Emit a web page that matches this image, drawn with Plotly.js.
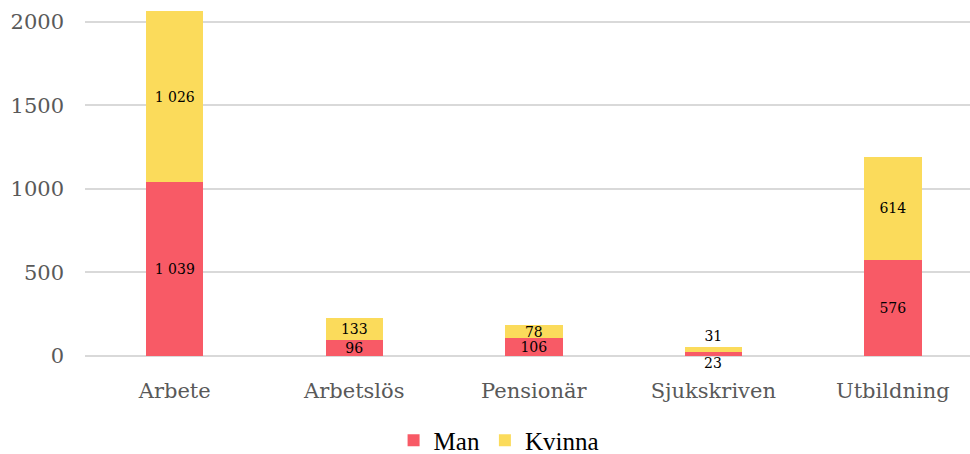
<!DOCTYPE html>
<html>
<head>
<meta charset="utf-8">
<script src="https://cdn.plot.ly/plotly-3.0.1.min.js"></script>
<style>
  html, body { margin: 0; padding: 0; background: #fff; }
  #chart { width: 970px; height: 454px; }
</style>
</head>
<body>
<div id="chart"></div>
<script>
// categories and series values
const categories = ['Arbete', 'Arbetslös', 'Pensionär', 'Sjukskriven', 'Utbildning'];
const manValues = [1039, 96, 106, 23, 576];
const kvinnaValues = [1026, 133, 78, 31, 614];
const yTicks = [0, 500, 1000, 1500, 2000];

// small bars: label is drawn outside instead
const manTextPos = manValues.map(v => v < 40 ? 'none' : 'inside');
const kvinnaTextPos = kvinnaValues.map(v => v < 40 ? 'outside' : 'inside');

const labelFont = { family: 'DejaVu Serif', size: 14, color: '#000' };

const man = {
    name: 'Man',
    type: 'bar',
    x: categories,
    y: manValues,
    marker: { color: '#f85a66' },
    texttemplate: '%{y:,.0f}',
    textposition: manTextPos,
    insidetextanchor: 'middle',
    constraintext: 'none',
    textfont: labelFont,
    hoverinfo: 'x+y+name'
};

const kvinna = {
    name: 'Kvinna',
    type: 'bar',
    x: categories,
    y: kvinnaValues,
    marker: { color: '#fbdb5b' },
    texttemplate: '%{y:,.0f}',
    textposition: kvinnaTextPos,
    insidetextanchor: 'middle',
    constraintext: 'none',
    textfont: labelFont,
    cliponaxis: false,
    hoverinfo: 'x+y+name'
};

// the man label that did not fit goes under the axis
const annotations = categories
    .map((c, i) => ({ c, v: manValues[i] }))
    .filter(d => d.v < 40)
    .map(d => ({
        x: d.c, y: 0, xref: 'x', yref: 'y',
        text: String(d.v), showarrow: false,
        yanchor: 'top', yshift: 3,
        font: labelFont
    }));

const layout = {
    width: 970,
    height: 454,
    margin: { l: 85, r: 0, t: 5, b: 98 },
    paper_bgcolor: '#fff',
    plot_bgcolor: '#fff',
    barmode: 'stack',
    bargap: 0.68,
    separators: ', ',
    showlegend: true,
    legend: {
        orientation: 'h',
        traceorder: 'normal',
        xref: 'container', yref: 'container',
        x: 0.514, xanchor: 'center',
        y: 0.03, yanchor: 'middle',
        font: { family: 'Liberation Serif', size: 25, color: '#000' },
        itemwidth: 30
    },
    xaxis: {
        range: [-0.5, 4.43],
        showgrid: false,
        zeroline: false,
        showline: false,
        ticks: '',
        ticklabelstandoff: 20,
        automargin: false,
        tickfont: { family: 'DejaVu Serif', size: 21, color: '#595959' }
    },
    yaxis: {
        range: [0, 2100],
        tickvals: yTicks,
        showgrid: true,
        gridcolor: '#d9d9d9',
        gridwidth: 2,
        zeroline: true,
        zerolinecolor: '#d9d9d9',
        zerolinewidth: 2,
        ticks: '',
        ticklabelstandoff: 20,
        automargin: false,
        tickfont: { family: 'DejaVu Serif', size: 21, color: '#595959' }
    },
    annotations: annotations
};

Plotly.newPlot('chart', [man, kvinna], layout, { displayModeBar: false, staticPlot: true });
</script>
</body>
</html>
